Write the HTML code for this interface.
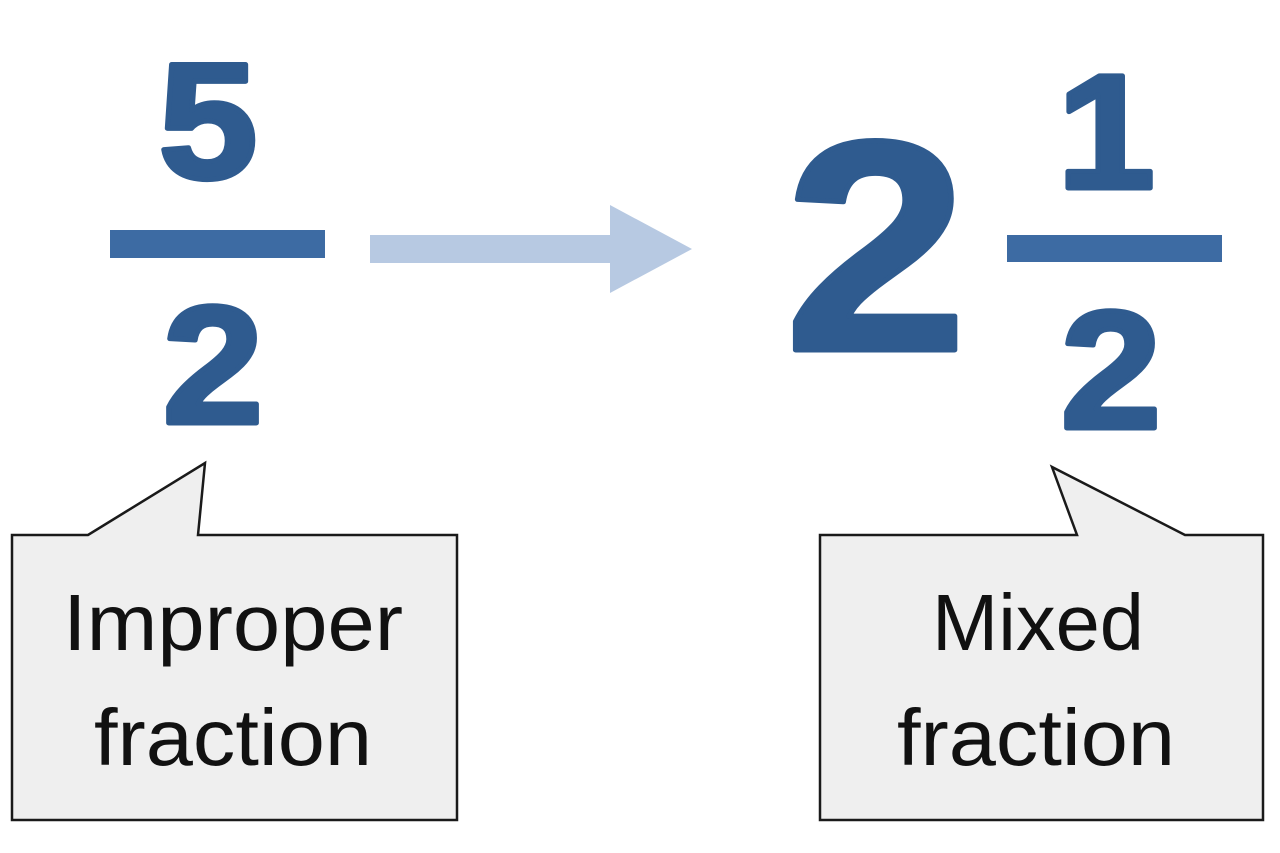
<!DOCTYPE html>
<html><head><style>
html,body{margin:0;padding:0;background:#fff;}
svg{display:block;}
</style></head><body>
<svg width="1280" height="853" viewBox="0 0 1280 853" xmlns="http://www.w3.org/2000/svg">
<g fill="#2f5b8f" stroke="#2f5b8f" stroke-width="5" stroke-linejoin="round" font-family="Liberation Sans, sans-serif" font-weight="bold" text-anchor="middle">
<text transform="translate(208,178) scale(1.08,1)" font-size="165">5</text>
<text transform="translate(213,423) scale(1.08,1)" font-size="168">2</text>
<text transform="translate(876,350) scale(1.1,1)" font-size="300">2</text>
<text transform="translate(1106,188) scale(1.08,1)" font-size="163">1</text>
<text transform="translate(1111,428) scale(1.08,1)" font-size="168">2</text>
</g>
<rect x="110" y="230" width="215" height="28" fill="#3d6ba3"/>
<rect x="1007" y="235" width="215" height="27" fill="#3d6ba3"/>
<rect x="370" y="235" width="242" height="28" fill="#b7c9e2"/>
<polygon points="610,205 692,249 610,293" fill="#b7c9e2"/>
<g fill="#efefef" stroke="#1a1a1a" stroke-width="2.5">
<path d="M12,535 L88,535 L205,463 L198,535 L457,535 L457,820 L12,820 Z"/>
<path d="M820,535 L1077,535 L1052,467 L1185,535 L1263,535 L1263,820 L820,820 Z"/>
</g>
<g fill="#111" font-family="Liberation Sans, sans-serif" font-size="80" text-anchor="middle">
<text x="233" y="650" textLength="340" lengthAdjust="spacingAndGlyphs">Improper</text>
<text x="233" y="765" textLength="278" lengthAdjust="spacingAndGlyphs">fraction</text>
<text x="1038" y="650" textLength="212" lengthAdjust="spacingAndGlyphs">Mixed</text>
<text x="1036" y="765" textLength="278" lengthAdjust="spacingAndGlyphs">fraction</text>
</g>
</svg>
</body></html>
